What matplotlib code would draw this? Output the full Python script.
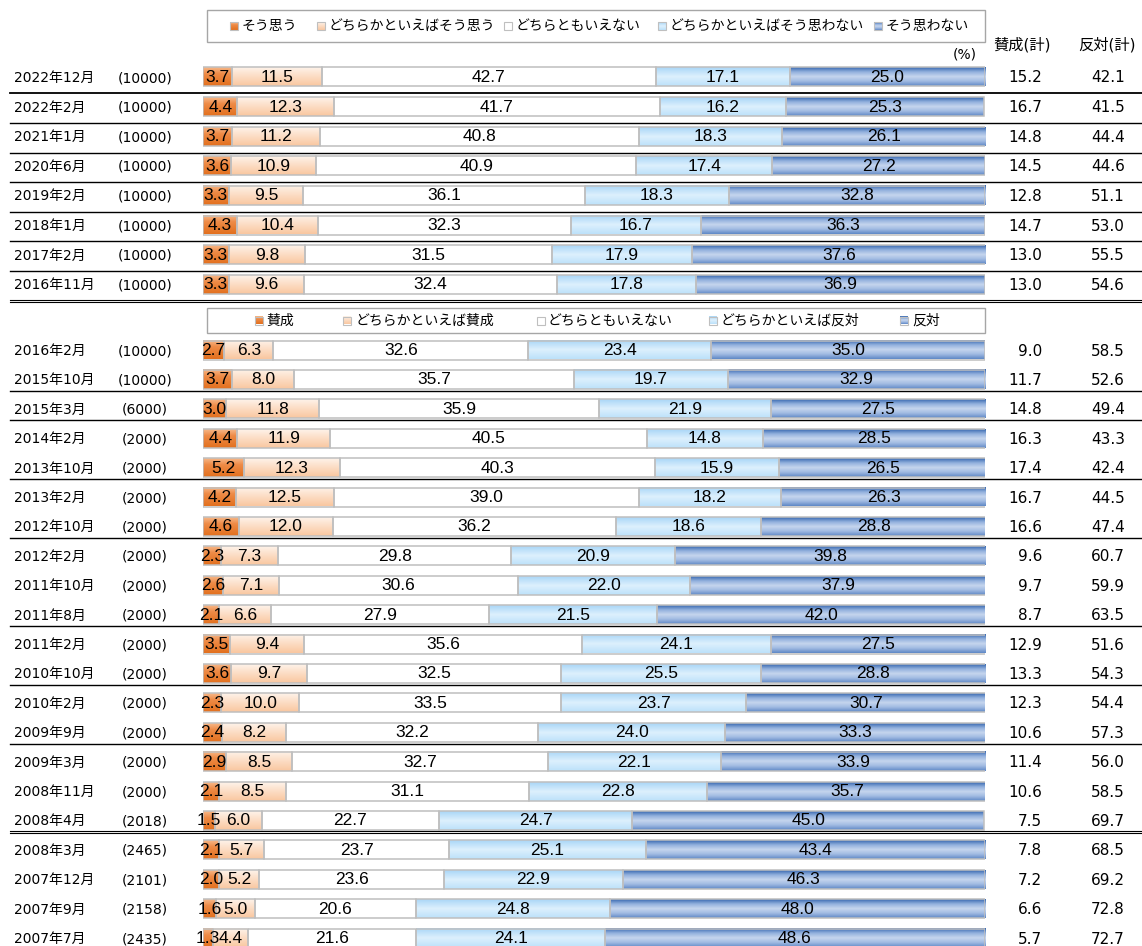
import numpy as np
import matplotlib
matplotlib.use('Agg')
import matplotlib.pyplot as plt
from matplotlib.colors import LinearSegmentedColormap
from matplotlib.patches import Rectangle

plt.rcParams['font.family'] = ['DejaVu Sans', 'Noto Sans CJK JP']

# legend labels (two question wordings)
legend_top = ['そう思う', 'どちらかといえばそう思う', 'どちらともいえない',
              'どちらかといえばそう思わない', 'そう思わない']
legend_low = ['賛成', 'どちらかといえば賛成', 'どちらともいえない',
              'どちらかといえば反対', '反対']

# survey rows (top block: 8 rows, lower block: 21 rows)
dates = ['2022年12月', '2022年2月', '2021年1月', '2020年6月', '2019年2月',
         '2018年1月', '2017年2月', '2016年11月',
         '2016年2月', '2015年10月', '2015年3月', '2014年2月', '2013年10月',
         '2013年2月', '2012年10月', '2012年2月', '2011年10月', '2011年8月',
         '2011年2月', '2010年10月', '2010年2月', '2009年9月', '2009年3月',
         '2008年11月', '2008年4月', '2008年3月', '2007年12月', '2007年9月',
         '2007年7月']
samples = ['(10000)'] * 8 + ['(10000)', '(10000)', '(6000)'] + ['(2000)'] * 13 + \
          ['(2018)', '(2465)', '(2101)', '(2158)', '(2435)']

strong_yes = [3.7, 4.4, 3.7, 3.6, 3.3, 4.3, 3.3, 3.3,
              2.7, 3.7, 3.0, 4.4, 5.2, 4.2, 4.6, 2.3, 2.6, 2.1, 3.5, 3.6, 2.3,
              2.4, 2.9, 2.1, 1.5, 2.1, 2.0, 1.6, 1.3]
weak_yes = [11.5, 12.3, 11.2, 10.9, 9.5, 10.4, 9.8, 9.6,
            6.3, 8.0, 11.8, 11.9, 12.3, 12.5, 12.0, 7.3, 7.1, 6.6, 9.4, 9.7, 10.0,
            8.2, 8.5, 8.5, 6.0, 5.7, 5.2, 5.0, 4.4]
neutral = [42.7, 41.7, 40.8, 40.9, 36.1, 32.3, 31.5, 32.4,
           32.6, 35.7, 35.9, 40.5, 40.3, 39.0, 36.2, 29.8, 30.6, 27.9, 35.6, 32.5, 33.5,
           32.2, 32.7, 31.1, 22.7, 23.7, 23.6, 20.6, 21.6]
weak_no = [17.1, 16.2, 18.3, 17.4, 18.3, 16.7, 17.9, 17.8,
           23.4, 19.7, 21.9, 14.8, 15.9, 18.2, 18.6, 20.9, 22.0, 21.5, 24.1, 25.5, 23.7,
           24.0, 22.1, 22.8, 24.7, 25.1, 22.9, 24.8, 24.1]
strong_no = [25.0, 25.3, 26.1, 27.2, 32.8, 36.3, 37.6, 36.9,
             35.0, 32.9, 27.5, 28.5, 26.5, 26.3, 28.8, 39.8, 37.9, 42.0, 27.5, 28.8, 30.7,
             33.3, 33.9, 35.7, 45.0, 43.4, 46.3, 48.0, 48.6]
total_yes = [15.2, 16.7, 14.8, 14.5, 12.8, 14.7, 13.0, 13.0,
             9.0, 11.7, 14.8, 16.3, 17.4, 16.7, 16.6, 9.6, 9.7, 8.7, 12.9, 13.3, 12.3,
             10.6, 11.4, 10.6, 7.5, 7.8, 7.2, 6.6, 5.7]
total_no = [42.1, 41.5, 44.4, 44.6, 51.1, 53.0, 55.5, 54.6,
            58.5, 52.6, 49.4, 43.3, 42.4, 44.5, 47.4, 60.7, 59.9, 63.5, 51.6, 54.3, 54.4,
            57.3, 56.0, 58.5, 69.7, 68.5, 69.2, 72.8, 72.7]

# gradient fills per category (top -> bottom)
cmaps = [
    LinearSegmentedColormap.from_list('c0', [(0, '#F7B98A'), (0.35, '#EE8B47'), (1, '#E2701E')]),
    LinearSegmentedColormap.from_list('c1', [(0, '#FEF3EA'), (0.5, '#FCDCC3'), (1, '#F9C7A0')]),
    LinearSegmentedColormap.from_list('c2', ['#FFFFFF', '#FFFFFF']),
    LinearSegmentedColormap.from_list('c3', [(0, '#A9D6F7'), (0.5, '#DDF0FD'), (1, '#BCE1FA')]),
    LinearSegmentedColormap.from_list('c4', [(0, '#3868B0'), (0.25, '#92B0DD'), (0.5, '#C6D6EE'),
                                             (0.75, '#A0BAE2'), (1, '#5F88C6')]),
]
grad = np.linspace(0, 1, 64).reshape(-1, 1)
edge = '#BFBFBF'

W, H = 1142, 946
fig = plt.figure(figsize=(W / 100, H / 100), dpi=100)
bx0, bx1 = 203, 985
ax = fig.add_axes([bx0 / W, 0, (bx1 - bx0) / W, 1])
ov = fig.add_axes([0, 0, 1, 1], facecolor='none')

# row layout (pixel rows)
ys = [77 + 29.6 * i for i in range(8)] + [350 + 29.4 * j for j in range(21)]
bh = 19

series = [strong_yes, weak_yes, neutral, weak_no, strong_no]
for r, y in enumerate(ys):
    left = 0
    for k in range(5):
        v = series[k][r]
        ax.imshow(grad, extent=(left, left + v, y + bh / 2, y - bh / 2), cmap=cmaps[k],
                  aspect='auto', interpolation='bilinear', zorder=1)
        ax.barh(y, v, left=left, height=bh, fill=False, edgecolor=edge, linewidth=1.1, zorder=2)
        ax.text(left + v / 2, y + 0.5, f'{v:.1f}', ha='center', va='center', fontsize=12.5,
                family='Liberation Sans', zorder=3, clip_on=False)
        left += v
    ov.text(14, y + 1, dates[r], ha='left', va='center', fontsize=10)
    ov.text(145, y + 1, samples[r], ha='center', va='center', fontsize=10)
    ov.text(1042, y + 1, f'{total_yes[r]:.1f}', ha='right', va='center', fontsize=11)
    ov.text(1125, y + 1, f'{total_no[r]:.1f}', ha='right', va='center', fontsize=11)

ax.set_xlim(0, 100)
ax.set_ylim(H, 0)
ax.axis('off')

# separator lines
for i in range(0, 7):
    ov.plot([10, W], [ys[i] + 16.5] * 2, color='black', lw=1.3 if i == 0 else 1.0)
yl = ys[7] + 16.5
ov.plot([10, W], [yl - 1.1] * 2, color='black', lw=0.8)
ov.plot([10, W], [yl + 1.1] * 2, color='black', lw=0.8)
low_single = [1, 2, 4, 6, 9, 11, 13]
for j in low_single:
    ov.plot([10, W], [ys[8 + j] + 11.5] * 2, color='black', lw=1.0)
yl = ys[8 + 16] + 11.5
ov.plot([10, W], [yl - 1.1] * 2, color='black', lw=0.8)
ov.plot([10, W], [yl + 1.1] * 2, color='black', lw=0.8)

# legends
def legend(labels, top, bottom, marks, texts):
    ov.add_patch(Rectangle((207, top), 985 - 207, bottom - top, fill=False,
                           edgecolor='#A6A6A6', lw=1.0))
    yc = (top + bottom) / 2
    for k, lab in enumerate(labels):
        mx = marks[k]
        ov.imshow(grad, extent=(mx, mx + 8, yc + 4, yc - 4), cmap=cmaps[k],
                  aspect='auto', interpolation='bilinear', zorder=2)
        ov.add_patch(Rectangle((mx, yc - 4), 8, 8, fill=False, edgecolor=edge, lw=0.8, zorder=3))
        ov.text(texts[k], yc, lab, ha='left', va='center', fontsize=10,
                family='Noto Sans CJK JP')

legend(legend_top, 10, 42, [230, 317, 504, 658, 874], [242, 329, 516, 670, 886])
legend(legend_low, 308, 333, [255, 343, 537, 709, 900], [266, 356, 548, 721, 912])

ov.text(977, 54, '(%)', ha='right', va='center', fontsize=10)
ov.text(1022, 45, '賛成(計)', ha='center', va='center', fontsize=11)
ov.text(1107, 45, '反対(計)', ha='center', va='center', fontsize=11)

ov.set_xlim(0, W)
ov.set_ylim(H, 0)
ov.axis('off')

fig.savefig('out.png', dpi=100)
